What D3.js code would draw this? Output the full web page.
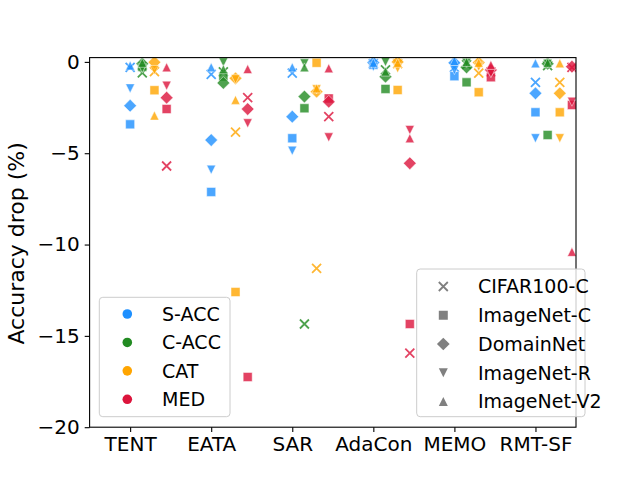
<!DOCTYPE html>
<html>
<head>
<meta charset="utf-8">
<script src="https://cdn.jsdelivr.net/npm/d3@7/dist/d3.min.js"></script>
<style>
html,body{margin:0;padding:0;background:#fff;}
svg{display:block;font-family:"DejaVu Sans",sans-serif;}
</style>
</head>
<body>
<svg id="chart" width="640" height="480"></svg>
<script>
// ---- data ----
const methods = ["TENT", "EATA", "SAR", "AdaCon", "MEMO", "RMT-SF"];
const datasets = ["CIFAR100-C", "ImageNet-C", "DomainNet", "ImageNet-R", "ImageNet-V2"];
const metrics = ["S-ACC", "C-ACC", "CAT", "MED"];
const metricColors = ["#1E90FF", "#228B22", "#FFA500", "#DC143C"];
const yTicks = [0, -5, -10, -15, -20];

// rows = datasets (CIFAR100-C, ImageNet-C, DomainNet, ImageNet-R, ImageNet-V2), cols = methods
const sAcc = [
  [-0.3, -0.68, -0.62, -0.1, -0.3, -1.12],
  [-3.42, -7.12, -4.18, -0.15, -0.78, -2.76],
  [-2.4, -4.28, -3.0, -0.04, -0.05, -1.72],
  [-1.45, -5.9, -4.86, -0.26, -0.45, -4.18],
  [-0.2, -0.3, -0.3, -0.05, 0.05, -0.08]
];
const cAcc = [
  [-0.6, -0.55, -14.35, -0.44, -0.15, -0.2],
  [-0.26, -0.8, -2.54, -1.48, -1.12, -4.0],
  [-0.1, -1.15, -1.9, -0.81, -0.3, -0.1],
  [-0.35, -0.02, -0.08, 0.0, -0.05, -0.1],
  [-0.05, -0.4, -0.3, -0.53, 0.0, -0.05]
];
const cat = [
  [-0.53, -3.84, -11.3, -0.1, -0.62, -1.12],
  [-1.55, -12.6, -0.05, -1.54, -1.66, -2.76],
  [-0.02, -0.9, -1.63, 0.0, -0.04, -1.72],
  [-0.44, -0.95, -1.5, -0.35, -0.26, -4.18],
  [-2.94, -2.08, -1.45, -0.05, -0.05, -0.08]
];
const med = [
  [-5.7, -1.96, -3.0, -15.95, -0.55, -0.3],
  [-2.58, -17.25, -2.0, -14.35, -0.84, -2.36],
  [-1.96, -2.58, -2.18, -5.55, -0.44, -0.26],
  [-1.3, -3.36, -4.13, -3.73, -0.62, -2.18],
  [-0.3, -0.39, -0.35, -4.18, -0.17, -10.4]
];
const metricValues = [sAcc, cAcc, cat, med];
const metricOffsets = [0, 0.15, 0.3, 0.45];

// ---- layout ----
const svg = d3.select("#chart");
const L = 89.6, R = 576, T = 57.6, B = 427.2;
const x = d3.scaleLinear().domain([-0.5, 5.5]).range([L, R]);
const y = d3.scaleLinear().domain([-20, 0.235]).range([B, T]);

// marker paths (size = square side in px)
function markerPath(kind, s) {
  const h = s / 2;
  switch (kind) {
    case "x": return `M${-h},${-h}L${h},${h}M${-h},${h}L${h},${-h}`;
    case "s": return `M${-h},${-h}H${h}V${h}H${-h}Z`;
    case "D": { const d = h * Math.SQRT2; return `M0,${-d}L${d},0L0,${d}L${-d},0Z`; }
    case "v": return `M${-h},${-h}L${h},${-h}L0,${h}Z`;
    case "^": return `M0,${-h}L${h},${h}L${-h},${h}Z`;
  }
}
const markerKinds = ["x", "s", "D", "v", "^"];
const MS = 9;

svg.append("defs").append("clipPath").attr("id", "plotclip")
  .append("rect").attr("x", L).attr("y", T).attr("width", R - L).attr("height", B - T);

const plot = svg.append("g").attr("clip-path", "url(#plotclip)");

const points = [];
metrics.forEach((m, mi) => {
  datasets.forEach((ds, di) => {
    methods.forEach((meth, ki) => {
      points.push({ mi, di, ki, v: metricValues[mi][di][ki] });
    });
  });
});

plot.selectAll("path.pt").data(points).enter().append("path")
  .attr("class", "pt")
  .attr("transform", d => `translate(${x(d.ki + metricOffsets[d.mi])},${y(d.v)})`)
  .attr("d", d => markerPath(markerKinds[d.di], MS))
  .attr("fill", d => markerKinds[d.di] === "x" ? "none" : metricColors[d.mi])
  .attr("fill-opacity", 0.8)
  .attr("stroke", d => markerKinds[d.di] === "x" ? metricColors[d.mi] : "#ffffff")
  .attr("stroke-opacity", d => markerKinds[d.di] === "x" ? 0.8 : 0.6)
  .attr("stroke-width", d => markerKinds[d.di] === "x" ? 1.8 : 0.8);

// ---- axes ----
const xAxis = d3.axisBottom(x).tickValues(d3.range(methods.length))
  .tickFormat(i => methods[i]).tickSize(4.9).tickPadding(4.9);
const gx = svg.append("g").attr("transform", `translate(0,${B})`).call(xAxis);
gx.select(".domain").remove();
gx.selectAll("text").attr("font-size", 20).attr("fill", "#000").attr("font-family", "DejaVu Sans");
gx.selectAll("line").attr("stroke", "#000").attr("stroke-width", 1.1);

const yAxis = d3.axisLeft(y).tickValues(yTicks)
  .tickFormat(v => v < 0 ? "\u2212" + Math.abs(v) : String(v)).tickSize(4.9).tickPadding(4.9);
const gy = svg.append("g").attr("transform", `translate(${L},0)`).call(yAxis);
gy.select(".domain").remove();
gy.selectAll("text").attr("font-size", 20).attr("fill", "#000").attr("font-family", "DejaVu Sans");
gy.selectAll("line").attr("stroke", "#000").attr("stroke-width", 1.1);

svg.append("rect").attr("x", L).attr("y", T).attr("width", R - L).attr("height", B - T)
  .attr("fill", "none").attr("stroke", "#000").attr("stroke-width", 1.1);

svg.append("text")
  .attr("transform", `translate(24,${(T + B) / 2 + 1}) rotate(-90)`)
  .attr("text-anchor", "middle")
  .attr("font-size", 22).attr("fill", "#000")
  .text("Accuracy drop (%)");

// ---- legends ----
function legendBox(x0, y0, w, h) {
  svg.append("rect").attr("x", x0).attr("y", y0).attr("width", w).attr("height", h)
    .attr("rx", 3.5).attr("ry", 3.5)
    .attr("fill", "#fff").attr("fill-opacity", 0.8)
    .attr("stroke", "#cccccc").attr("stroke-width", 1);
}

// colour legend
legendBox(99.3, 297.3, 130.7, 119.4);
const leg1Y = d3.scaleLinear().domain([0, 3]).range([314, 399.3]);
const leg1 = svg.append("g").selectAll("g").data(metrics).enter().append("g")
  .attr("transform", (d, i) => `translate(0,${leg1Y(i)})`);
leg1.append("circle").attr("cx", 127.3).attr("cy", 0).attr("r", 4.8)
  .attr("fill", (d, i) => metricColors[i]);
leg1.append("text").attr("x", 162).attr("y", 0).attr("dy", "0.36em")
  .attr("font-size", 19).attr("fill", "#000").text(d => d);

// marker legend
legendBox(416.7, 269, 168.3, 147.7);
const leg2Y = d3.scaleLinear().domain([0, 4]).range([286.5, 401.5]);
const leg2 = svg.append("g").selectAll("g").data(datasets).enter().append("g")
  .attr("transform", (d, i) => `translate(0,${leg2Y(i)})`);
leg2.append("path").attr("transform", "translate(443.3,0)")
  .attr("d", (d, i) => markerPath(markerKinds[i], MS))
  .attr("fill", (d, i) => markerKinds[i] === "x" ? "none" : "#808080")
  .attr("stroke", "#808080")
  .attr("stroke-width", (d, i) => markerKinds[i] === "x" ? 1.8 : 0);
leg2.append("text").attr("x", 478).attr("y", 0).attr("dy", "0.36em")
  .attr("font-size", 19).attr("fill", "#000").text(d => d);
</script>
</body>
</html>
